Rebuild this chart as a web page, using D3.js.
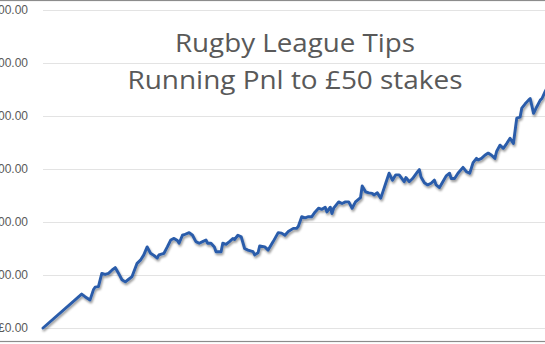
<!DOCTYPE html>
<html>
<head>
<meta charset="utf-8">
<script src="https://cdn.jsdelivr.net/npm/d3@7"></script>
<style>
  html, body { margin: 0; padding: 0; background: #fff; }
  svg { display: block; }
</style>
</head>
<body>
<div id="chart_container"></div>
<script>
// running pnl after each bet (bet number, £)
var bets = [0, 23, 25, 28, 30, 31, 33, 35, 37, 39, 41, 43, 45, 47, 49, 51, 53, 56, 58, 60,
    62, 64, 66, 68, 69, 72, 74, 76, 78, 80, 81, 83, 84, 87, 89, 91, 93, 95, 97, 98,
    100, 102, 103, 106, 107, 109, 111, 113, 114, 116, 118, 120, 122, 125, 126, 128, 129, 132, 134, 137,
    140, 142, 144, 146, 149, 151, 152, 154, 156, 158, 160, 162, 164, 166, 168, 169, 171, 172, 173, 176,
    178, 180, 182, 184, 186, 189, 190, 192, 194, 196, 197, 199, 201, 202, 204, 206, 208, 210, 212, 215,
    216, 218, 220, 223, 224, 225, 227, 229, 231, 233, 234, 236, 238, 240, 242, 243, 245, 247, 250, 252,
    254, 256, 258, 259, 261, 263, 265, 267, 269, 270, 272, 274, 276, 278, 280, 282, 284, 285, 287, 289,
    290, 292, 294, 296, 297, 299, 300];
var pnl = [0, 64, 59, 53, 72, 77, 78, 103, 101, 103, 109, 114, 103, 91, 87, 92, 97, 122, 128, 138,
    153, 141, 137, 132, 138, 141, 153, 166, 169, 165, 160, 175, 176, 180, 175, 163, 160, 163, 166, 160,
    160, 153, 144, 144, 160, 158, 163, 169, 167, 175, 172, 150, 147, 144, 138, 142, 155, 153, 147, 163,
    180, 179, 175, 182, 188, 188, 192, 210, 208, 210, 210, 219, 226, 224, 228, 219, 228, 216, 226, 238,
    235, 238, 238, 226, 238, 246, 268, 257, 255, 254, 251, 255, 245, 254, 273, 292, 279, 289, 289, 276,
    284, 276, 282, 295, 299, 285, 274, 270, 273, 279, 270, 265, 276, 287, 292, 282, 282, 292, 303, 295,
    292, 312, 320, 317, 320, 326, 330, 326, 320, 333, 345, 339, 348, 358, 348, 396, 398, 415, 423, 430,
    433, 405, 418, 430, 433, 447, 453];
var yTicks = [0, 100, 200, 300, 400, 500, 600];
var titleLines = ["Rugby League Tips", "Running Pnl to £50 stakes"];

var width = 545, height = 344;
var fmt = d3.format(",.2f");

var svg = d3.select("#chart_container").append("svg")
    .attr("width", width)
    .attr("height", height);

var defs = svg.append("defs");
var shadow = defs.append("filter")
    .attr("id", "shadow")
    .attr("x", "-5%").attr("y", "-5%")
    .attr("width", "110%").attr("height", "120%");
shadow.append("feDropShadow")
    .attr("dx", 1).attr("dy", 2)
    .attr("stdDeviation", 1.3)
    .attr("flood-color", "#000")
    .attr("flood-opacity", 0.4);

var x = d3.scaleLinear()
    .domain([0, 300])
    .range([43, 547]);
var y = d3.scaleLinear()
    .domain([0, 600])
    .range([328, 10]);

// gridlines
svg.append("g")
    .selectAll("line")
    .data(yTicks)
    .enter().append("line")
    .attr("x1", 43)
    .attr("x2", width)
    .attr("y1", function(d) { return Math.round(y(d)) + 0.5; })
    .attr("y2", function(d) { return Math.round(y(d)) + 0.5; })
    .attr("stroke", "#e3e3e3")
    .attr("stroke-width", 1);

// tick labels (left part falls outside the frame, as in the original crop)
svg.append("g")
    .selectAll("text")
    .data(yTicks)
    .enter().append("text")
    .attr("x", 28)
    .attr("y", function(d) { return y(d); })
    .attr("dy", "0.35em")
    .attr("text-anchor", "end")
    .attr("font-family", "'Liberation Sans', Arial, sans-serif")
    .attr("font-size", 12)
    .attr("fill", "#595959")
    .text(function(d) { return "£" + fmt(d); });

// title
svg.append("g")
    .selectAll("text")
    .data(titleLines)
    .enter().append("text")
    .attr("x", 295)
    .attr("y", function(d, i) { return 52 + i * 36.5; })
    .attr("text-anchor", "middle")
    .attr("font-family", "'Open Sans', 'Noto Sans', sans-serif")
    .attr("font-size", 25)
    .attr("fill", "#595959")
    .attr("textLength", function(d, i) { return i === 0 ? 240 : 335; })
    .attr("lengthAdjust", "spacingAndGlyphs")
    .text(function(d) { return d; });

// pnl line
var line = d3.line()
    .x(function(d, i) { return x(bets[i]); })
    .y(function(d) { return y(d); });

svg.append("path")
    .datum(pnl)
    .attr("d", line)
    .attr("fill", "none")
    .attr("stroke", "#2a5caa")
    .attr("stroke-width", 2.9)
    .attr("stroke-linejoin", "round")
    .attr("stroke-linecap", "round")
    .attr("filter", "url(#shadow)");

// chart frame
svg.append("rect")
    .attr("x", -5)
    .attr("y", 0.5)
    .attr("width", width + 10)
    .attr("height", 341)
    .attr("fill", "none")
    .attr("stroke", "#8c8c8c")
    .attr("stroke-width", 1.2);
</script>
</body>
</html>
